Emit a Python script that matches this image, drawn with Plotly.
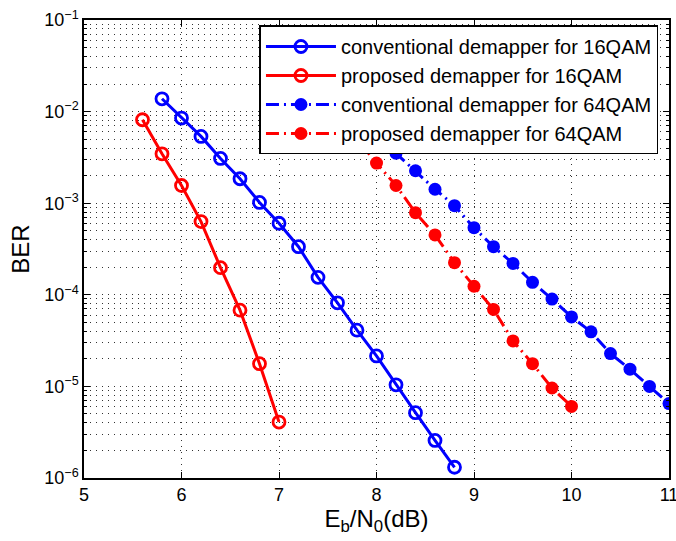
"""BER vs Eb/N0 for conventional and proposed demappers (16QAM / 64QAM)."""

import plotly.graph_objects as go

# ──────────────────────────────────────────────
# Data
# ──────────────────────────────────────────────
EBN0_16_CONV = [5.8, 6.0, 6.2, 6.4, 6.6, 6.8, 7.0, 7.2, 7.4, 7.6, 7.8, 8.0, 8.2, 8.4, 8.6, 8.8]
BER_16_CONV = [1.38e-2, 8.5e-3, 5.36e-3, 3.08e-3, 1.85e-3, 1.02e-3, 6.04e-4, 3.35e-4,
               1.55e-4, 8.18e-5, 4.11e-5, 2.15e-5, 1.04e-5, 5.16e-6, 2.57e-6, 1.31e-6]

EBN0_16_PROP = [5.6, 5.8, 6.0, 6.2, 6.4, 6.6, 6.8, 7.0]
BER_16_PROP = [8.15e-3, 3.46e-3, 1.56e-3, 6.3e-4, 1.98e-4, 6.8e-5, 1.77e-5, 4.08e-6]

EBN0_64_CONV = [8.0, 8.2, 8.4, 8.6, 8.8, 9.0, 9.2, 9.4, 9.6, 9.8, 10.0, 10.2, 10.4, 10.6, 10.8, 11.0]
BER_64_CONV = [5.5e-3, 3.52e-3, 2.26e-3, 1.42e-3, 9.4e-4, 5.4e-4, 3.35e-4, 2.2e-4,
               1.37e-4, 8.98e-5, 5.74e-5, 3.94e-5, 2.28e-5, 1.54e-5, 1.0e-5, 6.5e-6]

EBN0_64_PROP = [7.8, 8.0, 8.2, 8.4, 8.6, 8.8, 9.0, 9.2, 9.4, 9.6, 9.8, 10.0]
BER_64_PROP = [5.0e-3, 2.74e-3, 1.56e-3, 7.88e-4, 4.5e-4, 2.24e-4, 1.24e-4, 6.92e-5,
               3.14e-5, 1.77e-5, 9.6e-6, 6.05e-6]

X_TICKS = [5, 6, 7, 8, 9, 10, 11]
Y_EXPONENTS = [-6, -5, -4, -3, -2, -1]

BLUE = "#0000FF"
RED = "#FF0000"
FONT = "Liberation Sans, Arial, sans-serif"
GRID_DASH = "1px,5px"
GRID_COLOR = "#333333"
DASHDOT = "13px,5px,2px,5px"

# ──────────────────────────────────────────────
# Figure
# ──────────────────────────────────────────────
fig = go.Figure()

series = [
    ("conventional demapper for 16QAM", EBN0_16_CONV, BER_16_CONV, BLUE, "solid", "open"),
    ("proposed demapper for 16QAM", EBN0_16_PROP, BER_16_PROP, RED, "solid", "open"),
    ("conventional demapper for 64QAM", EBN0_64_CONV, BER_64_CONV, BLUE, DASHDOT, "filled"),
    ("proposed demapper for 64QAM", EBN0_64_PROP, BER_64_PROP, RED, DASHDOT, "filled"),
]

for name, xs, ys, color, dash, kind in series:
    if kind == "open":
        marker = dict(symbol="circle-open", size=12, color=color, line=dict(width=2.8, color=color))
    else:
        marker = dict(symbol="circle", size=13, color=color, line=dict(width=0))
    fig.add_trace(go.Scatter(
        x=xs, y=ys, name=name,
        mode="lines+markers",
        line=dict(color=color, width=3, dash=dash),
        marker=marker,
    ))

# minor ticks 2..9 within each decade
minor_vals = [m * 10.0 ** e for e in Y_EXPONENTS[:-1] for m in range(2, 10)]

fig.update_layout(
    width=676,
    height=541,
    margin=dict(l=84, r=7, t=20, b=63, autoexpand=False),
    plot_bgcolor="white",
    paper_bgcolor="white",
    font=dict(family=FONT, size=18, color="black"),
    showlegend=True,
    legend=dict(
        x=0.982, y=0.988, xanchor="right", yanchor="top",
        bgcolor="white", bordercolor="black", borderwidth=1.5,
        font=dict(size=20, family=FONT),
        tracegroupgap=0,
        itemwidth=70,
    ),
    xaxis=dict(
        range=[5, 11],
        tickvals=X_TICKS,
        ticktext=[str(v) for v in X_TICKS],
        ticks="inside", ticklen=6, tickcolor="black",
        ticklabeloverflow="allow",
        showline=True, linecolor="black", linewidth=1.5, mirror="allticks",
        showgrid=True, gridcolor=GRID_COLOR, gridwidth=1, griddash=GRID_DASH,
        zeroline=False, automargin=False,
        title=dict(text="E<sub>b</sub>/N<sub>0</sub>(dB)", font=dict(size=24), standoff=4),
    ),
    yaxis=dict(
        type="log",
        range=[-6, -1],
        tickvals=[10.0 ** e for e in Y_EXPONENTS],
        ticktext=[f"10<sup>\u2212{-e}</sup>" for e in Y_EXPONENTS],
        ticks="inside", ticklen=6, tickcolor="black",
        ticklabeloverflow="allow",
        showline=True, linecolor="black", linewidth=1.5, mirror="allticks",
        showgrid=True, gridcolor=GRID_COLOR, gridwidth=1, griddash=GRID_DASH,
        zeroline=False, automargin=False,
        minor=dict(
            tickvals=minor_vals, ticks="inside", ticklen=3, tickcolor="black",
            showgrid=True, gridcolor=GRID_COLOR, gridwidth=1, griddash=GRID_DASH,
        ),
        title=dict(text="BER", font=dict(size=24), standoff=8),
    ),
)

# drop the default 8px page margin so the figure fills the window exactly
fig.write_html(
    "out.html",
    config={"displayModeBar": False},
    post_script="document.body.style.margin = '0';",
)
